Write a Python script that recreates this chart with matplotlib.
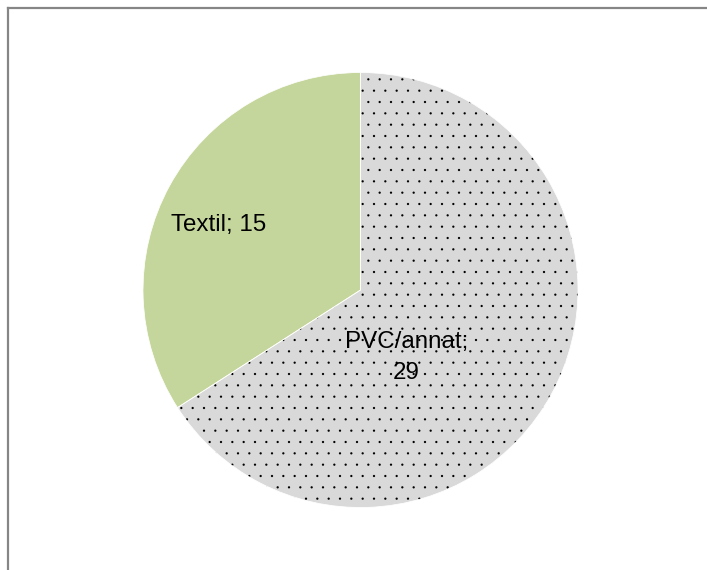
import matplotlib.pyplot as plt
from matplotlib.lines import Line2D

# data
labels = ['PVC/annat', 'Textil']
values = [29, 15]
colors = ['#D9D9D9', '#C4D69B']
hatches = ['.', '']

W, H, DPI = 707, 570, 68  # dpi 68 gives the '.' hatch about the right dot spacing
plt.rcParams['font.family'] = ['Liberation Sans', 'DejaVu Sans']
plt.rcParams['hatch.linewidth'] = 0.0

fig = plt.figure(figsize=(W / DPI, H / DPI), dpi=DPI)
fig.patch.set_facecolor('white')

# pie axes, placed so that the circle sits where it is in the reference
cx, cy, r = 360.5, 290.0, 217.5
ax = fig.add_axes([(cx - r) / W, (H - cy - r) / H, 2 * r / W, 2 * r / H])

wedges, _ = ax.pie(values, colors=colors, startangle=90, counterclock=False,
                   wedgeprops=dict(edgecolor='black', linewidth=0))
for w, h in zip(wedges, hatches):
    w.set_hatch(h)
# thin white separators on top
ax.pie(values, colors=['none', 'none'], startangle=90, counterclock=False,
       wedgeprops=dict(edgecolor='white', linewidth=0.8, fill=False))
ax.set_xlim(-1, 1)
ax.set_ylim(-1, 1)
ax.set_aspect('equal')

# data labels (label; value), placed like the reference
label_pos = [(0.212, -0.31), (-0.652, 0.30)]
label_txt = [labels[0] + ';\n' + str(values[0]), labels[1] + '; ' + str(values[1])]
for (x, y), t in zip(label_pos, label_txt):
    ax.text(x, y, t, ha='center', va='center', fontsize=25.5, color='black',
            linespacing=1.55)

# chart area border (only top and left edges show in the crop)
bx, by = 7.5 / W, 1 - 7.5 / H
fig.add_artist(Line2D([bx, bx], [-0.1, by], transform=fig.transFigure,
                      color='#868686', linewidth=2.2 * 72 / DPI))
fig.add_artist(Line2D([bx, 1.1], [by, by], transform=fig.transFigure,
                      color='#868686', linewidth=2.2 * 72 / DPI))

fig.savefig('out.png', dpi=DPI)
